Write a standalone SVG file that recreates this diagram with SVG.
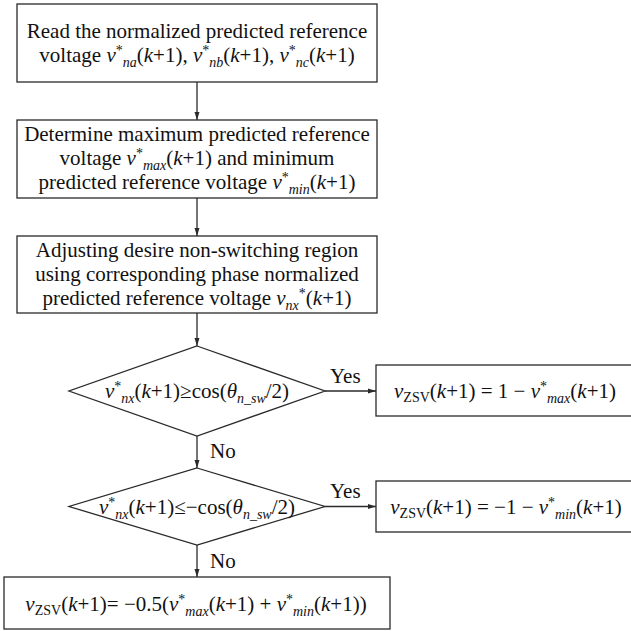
<svg xmlns="http://www.w3.org/2000/svg" width="631" height="631" viewBox="0 0 631 631" font-family="'Liberation Serif', 'DejaVu Serif', serif">
<defs>
<style>
.box{fill:#fff;stroke:#2a2a2a;stroke-width:1.3}
.ln{fill:none;stroke:#2a2a2a;stroke-width:1.3}
text{font-family:'Liberation Serif','DejaVu Serif',serif;font-size:21px;fill:#111}
.c{text-anchor:middle}
.i{font-style:italic}
.s{font-size:14px}
.si{font-size:14px;font-style:italic}
</style>
<marker id="ah" markerUnits="userSpaceOnUse" markerWidth="8" markerHeight="6" refX="8" refY="3" orient="auto">
<path d="M0,0.5 L8,3 L0,5.5 z" fill="#2a2a2a"/>
</marker>
</defs>
<rect width="631" height="631" fill="#fff"/>

<g id="connectors">
<line class="ln" x1="197" y1="82" x2="197" y2="120" marker-end="url(#ah)"/>
<line class="ln" x1="197" y1="198" x2="197" y2="236" marker-end="url(#ah)"/>
<line class="ln" x1="197" y1="313" x2="197" y2="346" marker-end="url(#ah)"/>
<line class="ln" x1="197" y1="436" x2="197" y2="468" marker-end="url(#ah)"/>
<line class="ln" x1="197" y1="545" x2="197" y2="577" marker-end="url(#ah)"/>
<line class="ln" x1="325" y1="391" x2="376" y2="391" marker-end="url(#ah)"/>
<line class="ln" x1="325" y1="506.5" x2="376" y2="506.5" marker-end="url(#ah)"/>
<text x="330" y="383">Yes</text>
<text x="330" y="498">Yes</text>
<text x="210" y="458">No</text>
<text x="210" y="568">No</text>
</g>

<g id="read">
<rect class="box" x="17" y="4" width="360" height="78"/>
<text class="c" x="197" y="38">Read the normalized predicted reference</text>
<text class="c" x="197" y="62">voltage <tspan class="i">v</tspan><tspan class="s" dy="-7">*</tspan><tspan class="si" dy="12">na</tspan><tspan dy="-5">(</tspan><tspan class="i">k</tspan>+1), <tspan class="i">v</tspan><tspan class="s" dy="-7">*</tspan><tspan class="si" dy="12">nb</tspan><tspan dy="-5">(</tspan><tspan class="i">k</tspan>+1), <tspan class="i">v</tspan><tspan class="s" dy="-7">*</tspan><tspan class="si" dy="12">nc</tspan><tspan dy="-5">(</tspan><tspan class="i">k</tspan>+1)</text>
</g>

<g id="determine">
<rect class="box" x="17" y="120" width="360" height="78"/>
<text class="c" x="197" y="141">Determine maximum predicted reference</text>
<text class="c" x="197" y="165">voltage <tspan class="i">v</tspan><tspan class="s" dy="-7">*</tspan><tspan class="si" dy="12">max</tspan><tspan dy="-5">(</tspan><tspan class="i">k</tspan>+1) and minimum</text>
<text class="c" x="197" y="189">predicted reference voltage <tspan class="i">v</tspan><tspan class="s" dy="-7">*</tspan><tspan class="si" dy="12">min</tspan><tspan dy="-5">(</tspan><tspan class="i">k</tspan>+1)</text>
</g>

<g id="adjust">
<rect class="box" x="17" y="236" width="360" height="77"/>
<text class="c" x="197" y="257">Adjusting desire non-switching region</text>
<text class="c" x="197" y="281">using corresponding phase normalized</text>
<text class="c" x="197" y="305">predicted reference voltage <tspan class="i">v</tspan><tspan class="si" dy="5">nx</tspan><tspan class="s" dy="-12">*</tspan><tspan dy="7">(</tspan><tspan class="i">k</tspan>+1)</text>
</g>

<g id="decision1">
<polygon class="box" points="197,346 325,391 197,436 69,391"/>
<text class="c" x="197" y="398"><tspan class="i">v</tspan><tspan class="s" dy="-7">*</tspan><tspan class="si" dy="12">nx</tspan><tspan dy="-5">(</tspan><tspan class="i">k</tspan>+1)≥cos(<tspan class="i">θ</tspan><tspan class="si" dy="5">n_sw</tspan><tspan dy="-5">/2)</tspan></text>
</g>

<g id="decision2">
<polygon class="box" points="197,468 325,506.5 197,545 69,506.5"/>
<text class="c" x="197" y="514"><tspan class="i">v</tspan><tspan class="s" dy="-7">*</tspan><tspan class="si" dy="12">nx</tspan><tspan dy="-5">(</tspan><tspan class="i">k</tspan>+1)≤−cos(<tspan class="i">θ</tspan><tspan class="si" dy="5">n_sw</tspan><tspan dy="-5">/2)</tspan></text>
</g>

<g id="result1">
<rect class="box" x="376" y="365" width="260" height="51"/>
<text class="c" x="505" y="398"><tspan class="i">v</tspan><tspan class="s" dy="4">ZSV</tspan><tspan dy="-4">(</tspan><tspan class="i">k</tspan>+1) = 1 − <tspan class="i">v</tspan><tspan class="s" dy="-7">*</tspan><tspan class="si" dy="12">max</tspan><tspan dy="-5">(</tspan><tspan class="i">k</tspan>+1)</text>
</g>

<g id="result2">
<rect class="box" x="376" y="481" width="260" height="51"/>
<text class="c" x="506" y="514"><tspan class="i">v</tspan><tspan class="s" dy="4">ZSV</tspan><tspan dy="-4">(</tspan><tspan class="i">k</tspan>+1) = −1 − <tspan class="i">v</tspan><tspan class="s" dy="-7">*</tspan><tspan class="si" dy="12">min</tspan><tspan dy="-5">(</tspan><tspan class="i">k</tspan>+1)</text>
</g>

<g id="result3">
<rect class="box" x="4" y="577" width="386" height="52"/>
<text class="c" x="196" y="611"><tspan class="i">v</tspan><tspan class="s" dy="4">ZSV</tspan><tspan dy="-4">(</tspan><tspan class="i">k</tspan>+1)= −0.5(<tspan class="i">v</tspan><tspan class="s" dy="-7">*</tspan><tspan class="si" dy="12">max</tspan><tspan dy="-5">(</tspan><tspan class="i">k</tspan>+1) + <tspan class="i">v</tspan><tspan class="s" dy="-7">*</tspan><tspan class="si" dy="12">min</tspan><tspan dy="-5">(</tspan><tspan class="i">k</tspan>+1))</text>
</g>
</svg>
